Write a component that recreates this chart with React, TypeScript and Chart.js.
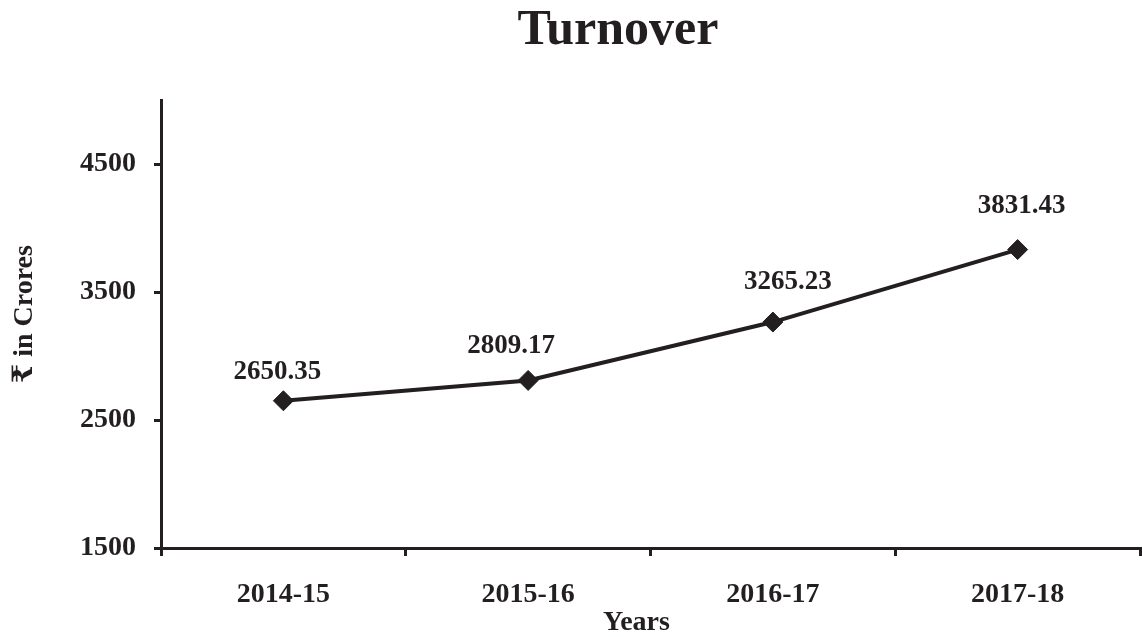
import React, { useEffect, useRef } from "react";
import { Chart, registerables } from "chart.js";

Chart.register(...registerables);

// ---- data ----
const years: string[] = ["2014-15", "2015-16", "2016-17", "2017-18"];
const turnover: number[] = [2650.35, 2809.17, 3265.23, 3831.43];
const yTickValues: number[] = [1500, 2500, 3500, 4500];
const yMin = 1500;
const yMax = 5000;
const chartTitle = "Turnover";
const xTitle = "Years";
const yTitle = "₹ in Crores";

// label nudges relative to each point (style only)
const labelNudge: { dx: number; dy: number }[] = [
  { dx: -6, dy: -29 },
  { dx: -17, dy: -34 },
  { dx: 15, dy: -40 },
  { dx: 4, dy: -44 },
];

const INK = "#231f20";
const FONT = "'Liberation Serif', 'Times New Roman', Times, 'DejaVu Serif', serif";

const valueLabels = {
  id: "valueLabels",
  afterDatasetsDraw(chart: any) {
    const ctx = chart.ctx;
    const meta = chart.getDatasetMeta(0);
    const data = chart.data.datasets[0].data as number[];
    ctx.save();
    ctx.font = `bold 27px ${FONT}`;
    ctx.fillStyle = INK;
    ctx.textAlign = "center";
    ctx.textBaseline = "middle";
    meta.data.forEach((pt: any, i: number) => {
      const n = labelNudge[i] || { dx: 0, dy: -37 };
      ctx.fillText(data[i].toFixed(2), pt.x + n.dx, pt.y + n.dy);
    });
    ctx.restore();
  },
};

const titlePlugin = {
  id: "customTitle",
  afterDraw(chart: any) {
    const ctx = chart.ctx;
    ctx.save();
    ctx.font = `bold 50px ${FONT}`;
    ctx.fillStyle = INK;
    ctx.textAlign = "center";
    ctx.textBaseline = "alphabetic";
    ctx.fillText(chartTitle, 618, 44);
    ctx.restore();
  },
};

export default function App() {
  const ref = useRef<HTMLCanvasElement | null>(null);

  useEffect(() => {
    if (!ref.current) return;
    const tickFont = { family: FONT, size: 28, weight: "bold" as const };
    const chart = new Chart(ref.current, {
      type: "line",
      data: {
        labels: years,
        datasets: [
          {
            label: chartTitle,
            data: turnover,
            borderColor: INK,
            backgroundColor: INK,
            borderWidth: 4,
            tension: 0,
            pointStyle: "rectRot",
            pointRadius: 10,
            pointBorderWidth: 1,
            pointBackgroundColor: INK,
            pointBorderColor: INK,
          },
        ],
      },
      options: {
        animation: false,
        responsive: false,
        layout: { autoPadding: false, padding: { left: 0, right: 2, top: 100, bottom: 0 } },
        plugins: {
          legend: { display: false },
          tooltip: { enabled: false },
          title: { display: false },
        },
        scales: {
          x: {
            offset: true,
            grid: {
              display: true,
              offset: true,
              drawOnChartArea: false,
              drawTicks: true,
              tickLength: 8,
              color: INK,
              lineWidth: 3,
            },
            border: { display: true, color: INK, width: 3 },
            ticks: { color: INK, font: tickFont, padding: 22 },
            title: {
              display: true,
              // trailing spaces nudge the centred title slightly left, as in the original
              text: xTitle + "    ",
              color: INK,
              font: { ...tickFont, lineHeight: 0.85 },
              padding: { top: 0, bottom: 2 },
            },
            afterFit: (s: any) => {
              s.height = 89;
              s.paddingLeft = 0;
              s.paddingRight = 0;
            },
          },
          y: {
            min: yMin,
            max: yMax,
            afterBuildTicks: (s: any) => {
              s.ticks = yTickValues.map((v) => ({ value: v }));
            },
            grid: {
              display: true,
              drawOnChartArea: false,
              drawTicks: true,
              tickLength: 7,
              color: INK,
              lineWidth: 3,
            },
            border: { display: true, color: INK, width: 3 },
            ticks: {
              color: INK,
              font: tickFont,
              padding: 18,
              callback: (v: any) => String(v),
            },
            title: {
              display: true,
              // leading spaces nudge the rotated title slightly upward
              text: "  \u2009" + yTitle,
              color: INK,
              font: tickFont,
              padding: { top: 8, bottom: 0 },
            },
            afterFit: (s: any) => {
              s.width = 161;
              s.paddingTop = 0;
              s.paddingBottom = 0;
            },
          },
        },
      },
      plugins: [valueLabels, titlePlugin],
    });
    return () => chart.destroy();
  }, []);

  return (
    <canvas
      ref={ref}
      width={1142}
      height={637}
      style={{ position: "fixed", left: 0, top: 0, display: "block", background: "#fff" }}
    />
  );
}
